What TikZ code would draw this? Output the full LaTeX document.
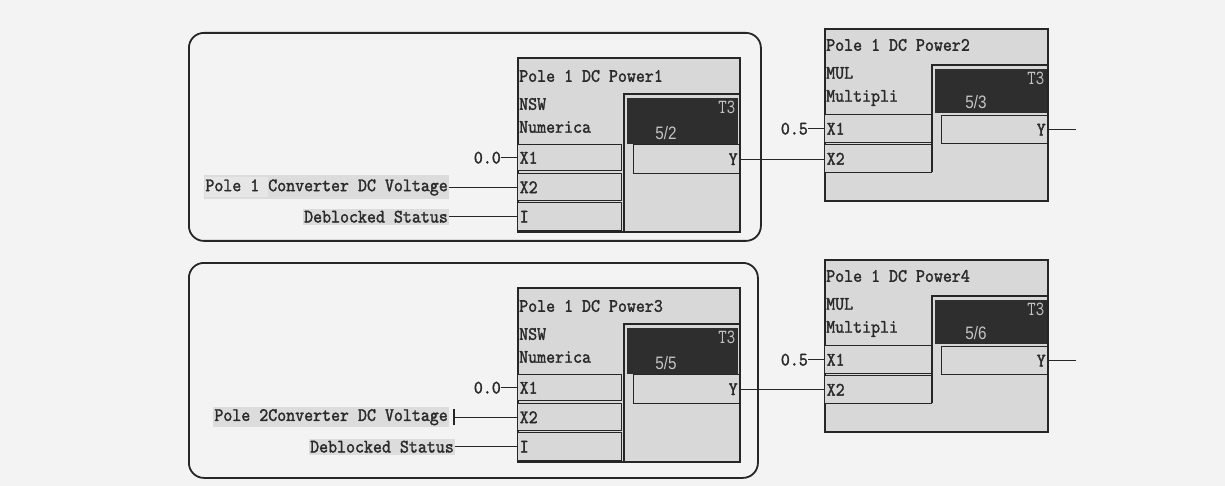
\documentclass[tikz,border=0pt]{standalone}
\usepackage{fontspec}
\newfontfamily\blkfont[FakeStretch=0.9, FakeBold=1.6]{lmmono10-regular.otf}
\newfontfamily\tthreefont[FakeStretch=0.8]{lmmono10-regular.otf}
\newfontfamily\numfont[FakeStretch=0.85]{Liberation Sans}
\usetikzlibrary{positioning}
\definecolor{bgc}{HTML}{F3F3F3}
\definecolor{blkc}{HTML}{D8D8D8}
\definecolor{darkc}{HTML}{2E2E2E}
\definecolor{linec}{HTML}{262626}
\definecolor{txtc}{HTML}{2A2A2A}
\definecolor{hlc}{HTML}{DCDCDC}
\definecolor{hllc}{HTML}{E6E6E6}
\definecolor{lightc}{HTML}{C4C4C4}
\tikzset{
  mono/.style={font=\blkfont\fontsize{19}{20}\selectfont, text=txtc},
  ttl/.style={mono, inner sep=0pt, anchor=west},
  blockbox/.style={draw=linec, line width=1.8pt, fill=blkc, inner sep=0pt, anchor=north west},
  darkbox/.style={fill=darkc, inner sep=0pt, anchor=north west},
  rowbox/.style={mono, draw=linec, line width=1.4pt, fill=blkc, inner xsep=2pt, inner ysep=0pt, anchor=north west, align=left},
  yrow/.style={rowbox, align=right},
  frameline/.style={draw=linec, line width=1.4pt},
  t3txt/.style={font=\tthreefont\fontsize{20}{20}\selectfont, text=lightc, inner xsep=3pt, inner ysep=3pt},
  numtxt/.style={font=\numfont\fontsize{18}{18}\selectfont, text=lightc, inner sep=0pt},
  lbl/.style={mono, fill=hlc, inner xsep=1pt, inner ysep=2pt},
  const/.style={mono, inner sep=0pt},
  wire/.style={draw=linec, line width=1.1pt},
  groupbox/.style={draw=linec, line width=1.8pt, rounded corners=15pt, inner sep=0pt, anchor=north west},
}
\newcommand\NSWblock[5]{%
\begin{scope}[shift={(#2,#3)}]
\node[blockbox, minimum width=222pt, minimum height=174pt] (#1) at (0,0) {};
\node[ttl] at (2,19) {#4};
\node[ttl] at (2,47) {NSW};
\node[ttl] at (2,70) {Numerica};
\node[darkbox, minimum width=111pt, minimum height=46pt] (#1d) at (110,41) {};
\node[t3txt, anchor=north east] at (#1d.north east) {T3};
\node[numtxt] at (149,76) {#5};
\draw[frameline] (107,174) -- (107,37) -- (222,37);
\node[rowbox, text width=100pt, minimum height=26pt] (#1x1) at (0,87) {X1};
\node[rowbox, text width=100pt, minimum height=27pt] (#1x2) at (0,116) {X2};
\node[rowbox, text width=100pt, minimum height=28pt] (#1i) at (0,145) {I};
\node[yrow, text width=102pt, minimum height=29pt] (#1y) at (116,87) {Y};
\end{scope}}
\newcommand\MULblock[5]{%
\begin{scope}[shift={(#2,#3)}]
\node[blockbox, minimum width=223pt, minimum height=172pt] (#1) at (0,0) {};
\node[ttl] at (2,17) {#4};
\node[ttl] at (2,45) {MUL};
\node[ttl] at (2,70) {Multipli};
\node[darkbox, minimum width=112pt, minimum height=44pt] (#1d) at (111,41) {};
\node[t3txt, anchor=north east] at (#1d.north east) {T3};
\node[numtxt] at (152,74) {#5};
\draw[frameline] (108,144) -- (108,37) -- (223,37);
\node[rowbox, text width=103pt, minimum height=28pt] (#1x1) at (0,86) {X1};
\node[rowbox, text width=103pt, minimum height=28pt] (#1x2) at (0,116) {X2};
\node[yrow, text width=102pt, minimum height=28pt] (#1y) at (117,87) {Y};
\end{scope}}
\begin{document}
\begin{tikzpicture}[x=1pt,y=-1pt]
\fill[bgc] (0,0) rectangle (1225,486);
\useasboundingbox (0,0) rectangle (1225,486);
% group frames
\node[groupbox, minimum width=572pt, minimum height=208pt] (g1) at (188,32) {};
\node[groupbox, minimum width=569pt, minimum height=215pt] (g2) at (188,262) {};
% blocks
\NSWblock{b1}{517}{57}{Pole 1 DC Power1}{5/2}
\MULblock{b2}{824}{28}{Pole 1 DC Power2}{5/3}
\NSWblock{b3}{517}{287}{Pole 1 DC Power3}{5/5}
\MULblock{b4}{824}{259}{Pole 1 DC Power4}{5/6}
% upper inputs
\node[const, left=16pt of b1x1] (c1) {0.0};
\node[lbl, left=68pt of b1x2] (l1) {{\setlength{\fboxsep}{0pt}\colorbox{hllc}{\strut Pole 1 }}Converter DC Voltage};
\node[lbl, left=68pt of b1i] (l2) {Deblocked Status};
\draw[wire] (c1.east) -- (b1x1.west);
\draw[wire] (l1.east) -- (b1x2.west);
\draw[wire] (l2.east) -- (b1i.west);
\node[const, left=16pt of b2x1] (c2) {0.5};
\draw[wire] (c2.east) -- (b2x1.west);
\draw[wire] (b1y.east) -- (b1y.east -| b2x2.west);
\coordinate (o2) at ([xshift=28pt]b2y.east);
\draw[wire] (b2y.east) -- (o2);
% lower inputs
\node[const, left=16pt of b3x1] (c3) {0.0};
\node[lbl, left=68pt of b3x2] (l3) {Pole 2Converter DC Voltage};
\node[lbl, left=62pt of b3i] (l4) {Deblocked Status};
\draw[wire] (c3.east) -- (b3x1.west);
\draw[wire] ([xshift=5pt]l3.east) -- (b3x2.west);
\draw[wire] ([xshift=5pt,yshift=-8pt]l3.east) -- ([xshift=5pt,yshift=8pt]l3.east);
\draw[wire] (l4.east) -- (b3i.west);
\node[const, left=16pt of b4x1] (c4) {0.5};
\draw[wire] (c4.east) -- (b4x1.west);
\draw[wire] (b3y.east) -- (b3y.east -| b4x2.west);
\coordinate (o4) at ([xshift=28pt]b4y.east);
\draw[wire] (b4y.east) -- (o4);
\end{tikzpicture}
\end{document}
